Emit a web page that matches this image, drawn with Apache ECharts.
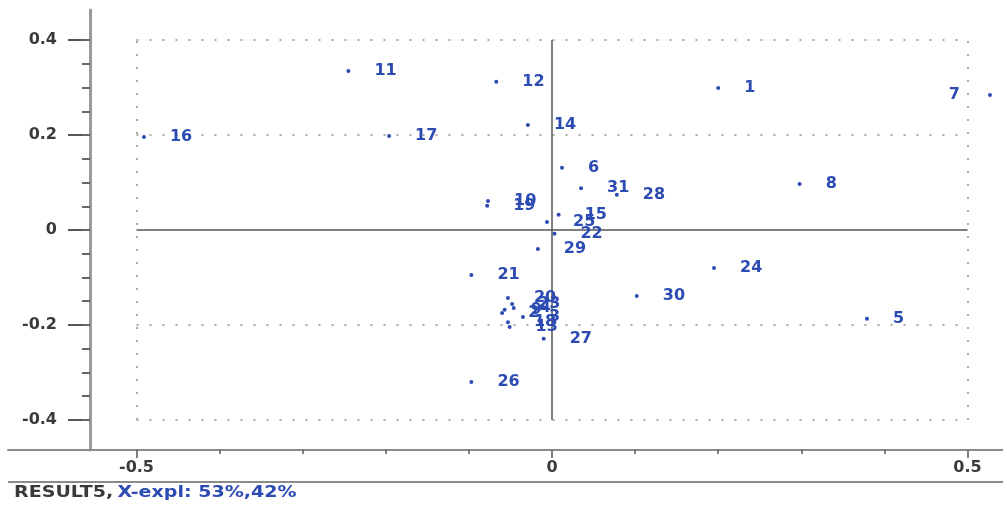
<!DOCTYPE html>
<html><head><meta charset="utf-8">
<script src="https://cdn.jsdelivr.net/npm/echarts@6/dist/echarts.min.js"></script>
<style>html,body{margin:0;padding:0;background:#fff}#c{width:1003px;height:506px}</style>
</head><body><div id="c"></div>
<script>
// ---- data ----
const pointIds = ['1','2','3','4','5','6','7','8','9','10','11','12','13','14','15','16','17','18','19','20','21','22','23','24','25','26','27','28','29','30','31'];
const xScores = [0.200,-0.060,-0.035,-0.046,0.379,0.012,0.527,0.298,-0.057,-0.077,-0.245,-0.067,-0.051,-0.029,0.008,-0.491,-0.196,-0.053,-0.078,-0.053,-0.097,0.003,-0.048,0.195,-0.006,-0.097,-0.010,0.078,-0.017,0.102,0.035];
const yScores = [0.299,-0.175,-0.183,-0.164,-0.187,0.131,0.284,0.097,-0.168,0.061,0.335,0.312,-0.204,0.221,0.032,0.196,0.198,-0.194,0.051,-0.143,-0.095,-0.008,-0.156,-0.080,0.017,-0.320,-0.229,0.074,-0.040,-0.139,0.088];
const leftLabeled = ['7'];
const xTickValues = [-0.5,-0.4,-0.3,-0.2,-0.1,0,0.1,0.2,0.3,0.4,0.5];
const xLabelValues = [-0.5,0,0.5];
const yTickValues = [-0.4,-0.35,-0.3,-0.25,-0.2,-0.15,-0.1,-0.05,0,0.05,0.1,0.15,0.2,0.25,0.3,0.35,0.4];
const yLabelValues = [-0.4,-0.2,0,0.2,0.4];
const gridRowValues = [-0.4,-0.2,0.2,0.4];
const gridColValues = [-0.5,0.5];
const footerName = 'RESULT5,';
const footerExpl = 'X-expl: 53%,42%';

// ---- chart ----
const X_MIN = -0.6546, X_MAX = 0.5427, Y_MIN = -0.4632, Y_MAX = 0.4632;
const BLUE = '#2c4bb3';
const tickFont = {color:'#3a3a3a', fontFamily:'DejaVu Sans', fontWeight:'bold', fontSize:16};

const points = pointIds.map((id,i) => {
  const item = {name:id, value:[xScores[i], yScores[i]]};
  if (leftLabeled.includes(id)) item.label = {position:'left', distance:28};
  return item;
});

const rowLines = gridRowValues.map(v => [{coord:[gridColValues[0], v]}, {coord:[gridColValues[1], v]}]);
const colLines = gridColValues.map(v => [{coord:[v, gridRowValues[0]]}, {coord:[v, gridRowValues[gridRowValues.length-1]]}]);
const crossLines = [
  [{coord:[gridColValues[0], 0]}, {coord:[gridColValues[1], 0]}],
  [{coord:[0, gridRowValues[0]]}, {coord:[0, gridRowValues[gridRowValues.length-1]]}]
];

const chart = echarts.init(document.getElementById('c'), null, {renderer:'canvas'});
chart.setOption({
  animation:false,
  backgroundColor:'#ffffff',
  grid:{left:8, right:0, top:10, bottom:56, containLabel:false},
  xAxis:[
    {type:'value', min:X_MIN, max:X_MAX, position:'bottom',
     axisLine:{show:true, onZero:false, lineStyle:{color:'#8a8a8a', width:2}},
     axisTick:{show:true, customValues:xLabelValues, length:8, lineStyle:{color:'#555', width:1.5}},
     axisLabel:{show:true, customValues:xLabelValues, margin:10, ...tickFont},
     splitLine:{show:false}},
    {type:'value', min:X_MIN, max:X_MAX, position:'bottom', offset:0,
     axisLine:{show:false, onZero:false},
     axisTick:{show:true, customValues:xTickValues, length:4, lineStyle:{color:'#555', width:1.5}},
     axisLabel:{show:false}, splitLine:{show:false}}
  ],
  yAxis:[
    {type:'value', min:Y_MIN, max:Y_MAX, position:'left', offset:-82,
     axisLine:{show:true, onZero:false, lineStyle:{color:'#9a9a9a', width:3}},
     axisTick:{show:true, customValues:yLabelValues, length:22, lineStyle:{color:'#555', width:2}},
     axisLabel:{show:true, customValues:yLabelValues, margin:33, ...tickFont},
     splitLine:{show:false}},
    {type:'value', min:Y_MIN, max:Y_MAX, position:'left', offset:-82,
     axisLine:{show:false, onZero:false},
     axisTick:{show:true, customValues:yTickValues, length:8, lineStyle:{color:'#666', width:2}},
     axisLabel:{show:false}, splitLine:{show:false}}
  ],
  series:[
    {type:'scatter', xAxisIndex:0, yAxisIndex:0, data:[], silent:true, z:1,
     markLine:{silent:true, symbol:['none','none'], label:{show:false},
       lineStyle:{color:'#a8a8a8', width:2, type:[2,11]}, data:rowLines.concat(colLines)}},
    {type:'scatter', xAxisIndex:0, yAxisIndex:0, data:[], silent:true, z:2,
     markLine:{silent:true, symbol:['none','none'], label:{show:false},
       lineStyle:{color:'#555', width:1.5, type:'solid'}, data:crossLines}},
    {type:'scatter', xAxisIndex:0, yAxisIndex:0, z:5,
     symbol:'circle', symbolSize:4,
     itemStyle:{color:BLUE, opacity:1},
     label:{show:true, position:'right', distance:24, formatter:'{b}', opacity:1,
       color:BLUE, fontFamily:'DejaVu Sans', fontWeight:'bold', fontSize:16},
     labelLayout:{hideOverlap:false},
     data:points}
  ],
  graphic:[
    {type:'line', shape:{x1:8, y1:482, x2:1003, y2:482}, style:{stroke:'#8a8a8a', lineWidth:2}, silent:true},
    {type:'text', x:14, y:486, scaleX:1.27, silent:true,
     style:{text:'{a|'+footerName+'} {b|'+footerExpl+'}',
       rich:{a:{fill:'#3a3a3a', fontFamily:'DejaVu Sans', fontWeight:'bold', fontSize:15},
             b:{fill:BLUE, fontFamily:'DejaVu Sans', fontWeight:'bold', fontSize:15}}}}
  ]
});
</script>
</body></html>
